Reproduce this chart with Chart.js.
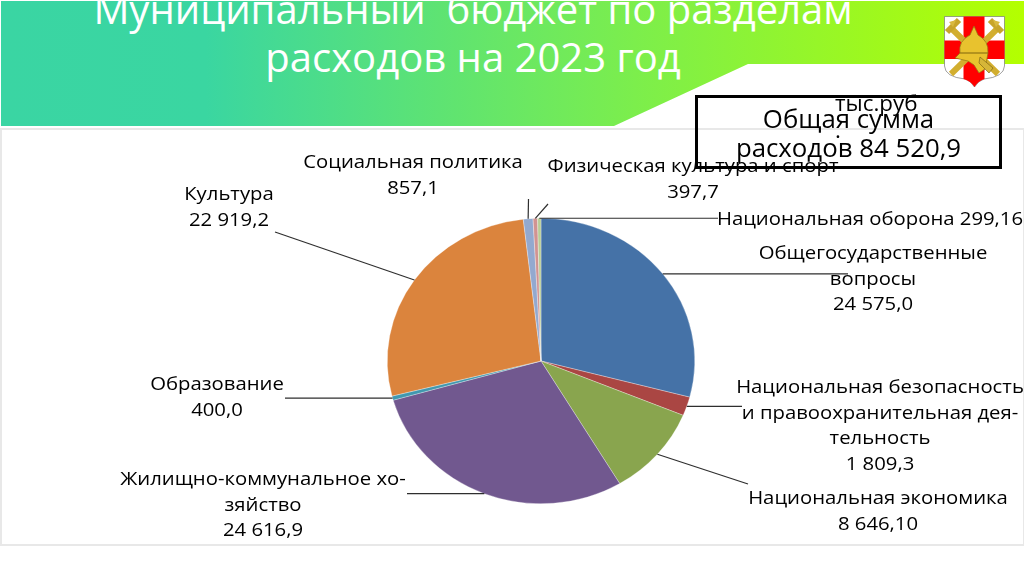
<!DOCTYPE html>
<html lang="ru">
<head>
<meta charset="utf-8">
<title>Муниципальный бюджет</title>
<script src="https://cdn.jsdelivr.net/npm/chart.js@4"></script>
<style>
html, body { margin: 0; padding: 0; width: 1024px; height: 576px; overflow: hidden; background: #fff; }
body { position: relative; font-family: "Open Sans", sans-serif; color: #000; }
#banner {
    position: absolute; left: 1px; top: 1px; width: 1023px; height: 125px;
    background: linear-gradient(90deg, #3ad5a3 0%, #3ad6a1 20%, #7cee4c 62%, #b4ff00 100%);
    clip-path: polygon(0 0, 100% 0, 100% 63px, 747px 63px, 613px 125px, 0 125px);
}
#frame { position: absolute; left: 0; top: 128px; width: 1021px; height: 414px; border: 2px solid #e8e8e8; }
#chart { position: absolute; left: 0; top: 0; }
.title { position: absolute; left: 0; width: 946px; text-align: center; color: #fff; font-size: 40px; line-height: 50px; white-space: pre; }
.label { position: absolute; text-align: center; font-size: 19px; line-height: 25.5px; white-space: pre; transform: translateX(-50%) scaleX(1.068); }
#totalBox { position: absolute; left: 695px; top: 95px; width: 301px; height: 68px; border: 3px solid #000; box-sizing: content-box; }
.boxText { position: absolute; left: 696px; width: 305px; text-align: center; font-size: 25.8px; line-height: 30px; white-space: pre; }
.unit { position: absolute; left: 835px; font-size: 22.4px; line-height: 24px; white-space: pre; }
#emblem { position: absolute; left: 944px; top: 16px; }
</style>
</head>
<body>
<div id="banner"></div>
<div id="frame"></div>
<div class="title" style="top:-16px">Муниципальный  бюджет по разделам</div>
<div class="title" style="top:32px">расходов на 2023 год</div>
<svg id="emblem" width="62" height="72" viewBox="0 0 62 72">
    <path d="M0.5 0.5 H60.5 V50 Q60 61 40 63 Q34 65 30.5 71 Q27 65 21 63 Q1 61 0.5 50 Z" fill="#fff" stroke="#777" stroke-width="0.7"/>
    <path d="M19.5 0.5 H40.5 V24.5 H60.5 V43 H40.5 V63 Q34 65 30.5 71 Q27 65 19.5 63 V43 H0.5 V24.5 H19.5 Z" fill="#f00"/>
    <path d="M8 13 L54 58 M53 13 L7 58" stroke="#d2ae2f" stroke-width="6"/>
    <path d="M3 16 L15 4 M46 4 L58 16" stroke="#c8a52a" stroke-width="6"/>
    <path d="M5 6 L12 4 L9 11 Z M56 6 L49 4 L52 11 Z" fill="#d9b93f"/>
    <path d="M30 10 L34 19 Q45 25 44 37 L41 53 L35 57 L30 49 L24 45 L11 42 L16 37 Q14 25 26 19 Z" fill="#e8c22e" stroke="#8f7414" stroke-width="0.7"/>
    <path d="M16 37 H44" stroke="#8f7414" stroke-width="1.2"/>
    <path d="M36 41 L49 52 L45 57 L35 47 Z" fill="#d6b638" stroke="#6e5a12" stroke-width="0.6"/>
</svg>
<canvas id="chart" width="1024" height="576"></canvas>
<div id="totalBox"></div>
<div class="unit" style="top:91px">тыс.руб</div>
<div class="unit" style="top:118px">.</div>
<div class="boxText" style="top:103px">Общая сумма</div>
<div class="boxText" style="top:132px">расходов 84 520,9</div>
<script>
// Chart data
var categories = [
    'Общегосударственные\nвопросы',
    'Национальная безопасность\nи правоохранительная дея-\nтельность',
    'Национальная экономика',
    'Жилищно-коммунальное хо-\nзяйство',
    'Образование',
    'Культура',
    'Социальная политика',
    'Физическая культура и спорт',
    'Национальная оборона'
];
var expenses = [24575.0, 1809.3, 8646.1, 24616.9, 400.0, 22919.2, 857.1, 397.7, 299.16];
var expenseLabels = ['24 575,0', '1 809,3', '8 646,10', '24 616,9', '400,0', '22 919,2', '857,1', '397,7', '299,16'];
var sliceColors = ['#4572a7', '#aa4643', '#89a54e', '#71588f', '#4198af', '#db843d', '#93a9cf', '#d19392', '#b9cd96'];

// Label centres (x, top of the first line)
var labelPlaces = [
    [873, 240], [880, 374], [878, 485], [263, 466], [217, 371],
    [229, 181], [413, 149], [693, 153], [870, 206]
];
// Where each leader line ends
var leaderEnds = [
    [848, null], [742, null], [748, 484], [407, null], [285, null],
    [275, 232], [528.5, 199], [548, 204], [718, null]
];

// The pie in the reference is a little wider than tall
var pieStretch = 154 / 143;

var ellipsePlugin = {
    id: 'ellipsePie',
    beforeDatasetsDraw: function(chart) {
        var arc = chart.getDatasetMeta(0).data[0];
        var ctx = chart.ctx;
        ctx.save();
        ctx.translate(arc.x, arc.y);
        ctx.scale(pieStretch, 1);
        ctx.translate(-arc.x, -arc.y);
    },
    afterDatasetsDraw: function(chart) {
        var ctx = chart.ctx;
        ctx.restore();

        // Leader lines start from the middle of each slice's outer edge
        ctx.save();
        ctx.strokeStyle = '#2e2e2e';
        ctx.lineWidth = 1.2;
        chart.getDatasetMeta(0).data.forEach(function(arc, i) {
            var mid = (arc.startAngle + arc.endAngle) / 2;
            var startX = arc.x + Math.cos(mid) * arc.outerRadius * pieStretch;
            var startY = arc.y + Math.sin(mid) * arc.outerRadius;
            var end = leaderEnds[i];
            ctx.beginPath();
            ctx.moveTo(startX, startY);
            ctx.lineTo(end[0], end[1] === null ? startY : end[1]);
            ctx.stroke();
        });
        ctx.restore();
    }
};

new Chart(document.getElementById('chart').getContext('2d'), {
    type: 'pie',
    data: {
        labels: categories,
        datasets: [{
            data: expenses,
            backgroundColor: sliceColors,
            borderColor: 'rgba(255, 255, 255, 0.6)',
            borderWidth: 0.5
        }]
    },
    options: {
        responsive: false,
        animation: false,
        layout: { padding: { left: 398, right: 340, top: 218, bottom: 72 } },
        plugins: { legend: { display: false }, tooltip: { enabled: false } }
    },
    plugins: [ellipsePlugin]
});

// Slice captions
categories.forEach(function(name, i) {
    var label = document.createElement('div');
    label.className = 'label';
    label.style.left = labelPlaces[i][0] + 'px';
    label.style.top = labelPlaces[i][1] + 'px';
    // The defence caption keeps its value on one line
    label.textContent = name + (i === 8 ? ' ' : '\n') + expenseLabels[i];
    document.body.appendChild(label);
});
</script>
</body>
</html>
